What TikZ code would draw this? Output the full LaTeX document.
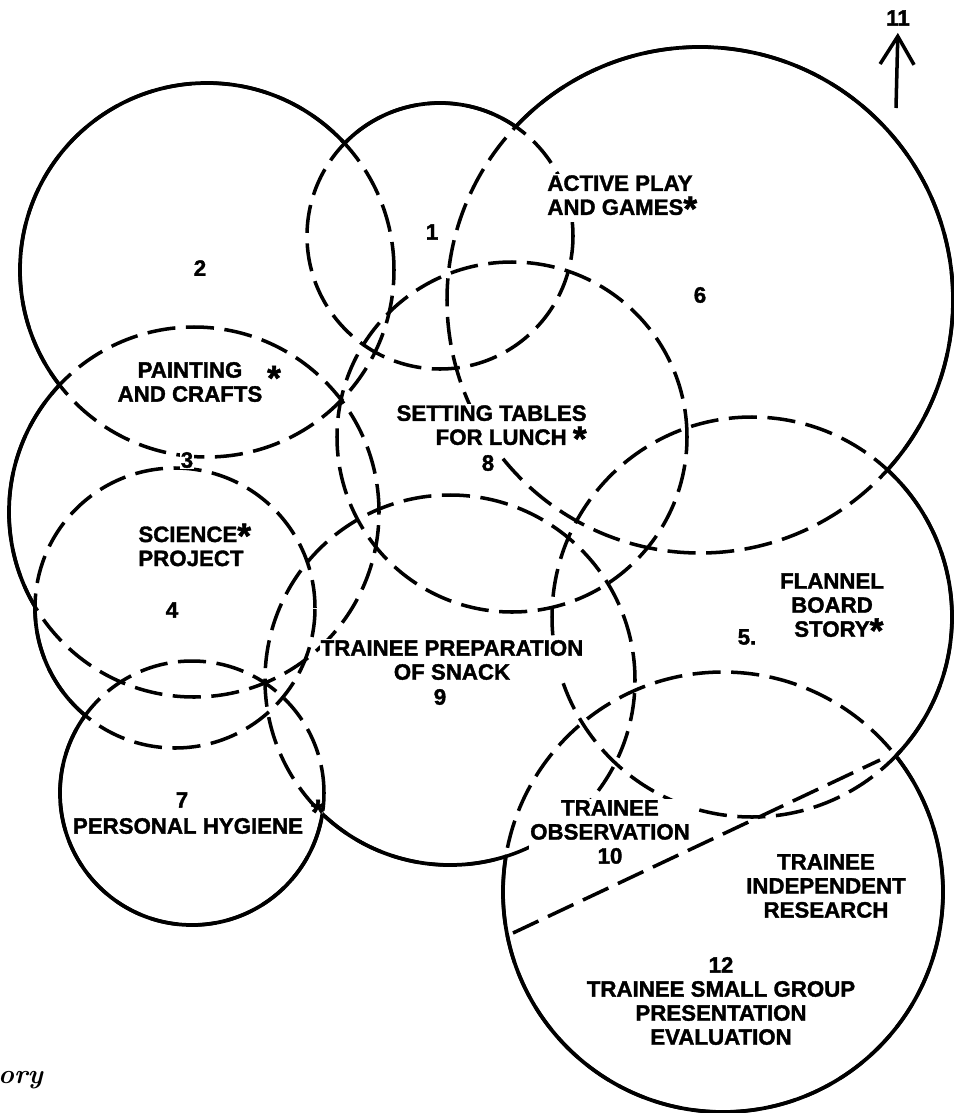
\documentclass[tikz,border=0pt]{standalone}
\usepackage{fontspec}
\setsansfont{Liberation Sans}[BoldFeatures={FakeBold=1.6}]
\usetikzlibrary{arrows.meta}
\newcommand\aster{\raisebox{-.5ex}{\fontsize{30}{30}\selectfont *}}
\tikzset{
  rim/.style={line width=3.2pt},
  seam/.style={line width=3pt,dash pattern=on 24pt off 9pt},
  lbl/.style={font=\sffamily\bfseries\fontsize{19}{20.5}\selectfont,align=center,inner sep=1pt,fill=white},
  starmark/.style={font=\sffamily\bfseries\fontsize{30}{30}\selectfont,inner sep=0pt},
  outside/.style={insert path={(-60,60) -- (1020,60) -- (1020,-1180) -- (-60,-1180) -- cycle}}
}
\begin{document}
\begin{tikzpicture}[x=0.03cm,y=0.03cm]
  \useasboundingbox (0,0) rectangle (954,-1113);
  \def\rings{1/440/-236/133,2/207/-270/187,3/194/-512/185,4/175/-608/140,5/752/-617/200,6/700/-300/253,7/192/-793/132,8/512/-437/175,9/450/-680/185,12/723/-892/220}
  % arcs inside the union
  \foreach \n/\x/\y/\r in \rings \draw[seam] (\x,\y) circle (\r);
  % outer rim of the union
  \foreach \n/\x/\y/\r in \rings {
    \begin{scope}
      \foreach \m/\u/\v/\s in \rings {\ifnum\n=\m\else\clip (\u,\v) circle (\s) [outside];\fi}
      \draw[rim] (\x,\y) circle (\r);
    \end{scope}
  }
  % labels
  \node[lbl,anchor=west,align=left] (play) at (546,-198) {ACTIVE PLAY\\AND GAMES\aster};
  \node[lbl] (n1) at (432,-232) {1};
  \node[lbl] (n2) at (200,-268) {2};
  \node[lbl] (n6) at (700,-295) {6};
  \node[lbl] (paint) at (190,-382) {PAINTING\\AND CRAFTS};
  \node[starmark] (paintast) at (274,-378) {*};
  \node[lbl] (n3) at (187,-460) {3};
  \node[lbl,anchor=west,align=left] (sci) at (137,-545) {SCIENCE\aster\\PROJECT};
  \node[lbl] (n4) at (172,-610) {4};
  \node[lbl,anchor=east,align=right] (lunch) at (588,-428) {SETTING TABLES\\FOR LUNCH \aster};
  \node[lbl] (n8) at (488,-463) {8};
  \node[lbl] (snack) at (452,-660) {TRAINEE PREPARATION\\OF SNACK};
  \node[lbl] (n9) at (440,-697) {9};
  \node[lbl] (flannel) at (832,-608) {FLANNEL\\BOARD\\STORY\rlap{\aster}};
  \node[lbl] (n5) at (747,-637) {5.};
  \node[lbl] (n7) at (182,-800) {7};
  \node[lbl] (hyg) at (188,-826) {PERSONAL HYGIENE};
  \node[starmark] (hygast) at (318,-812) {*};
  \node[lbl] (obs) at (610,-832) {TRAINEE\\OBSERVATION\\10};
  \node[lbl] (res) at (826,-886) {TRAINEE\\INDEPENDENT\\RESEARCH};
  \node[lbl] (grp) at (721,-1001) {12\\TRAINEE SMALL GROUP\\PRESENTATION\\EVALUATION};
  % split of circle 12
  \coordinate (cut1) at (513,-933);
  \coordinate (cut2) at (880,-760);
  \draw[seam] (cut1) -- (cut2);
  \node[lbl] (n11) at (898,-18) {11};
  \coordinate (tail) at (896,-108);
  \draw[line width=3pt,-{Straight Barb[length=24pt,width=29pt]},shorten >=5pt] (tail) -- (n11.south);
  \node[anchor=west,inner sep=0pt,font=\bfseries\itshape\fontsize{23}{25}\selectfont] (ory) at (-2,-1080) {ory};
\end{tikzpicture}
\end{document}
